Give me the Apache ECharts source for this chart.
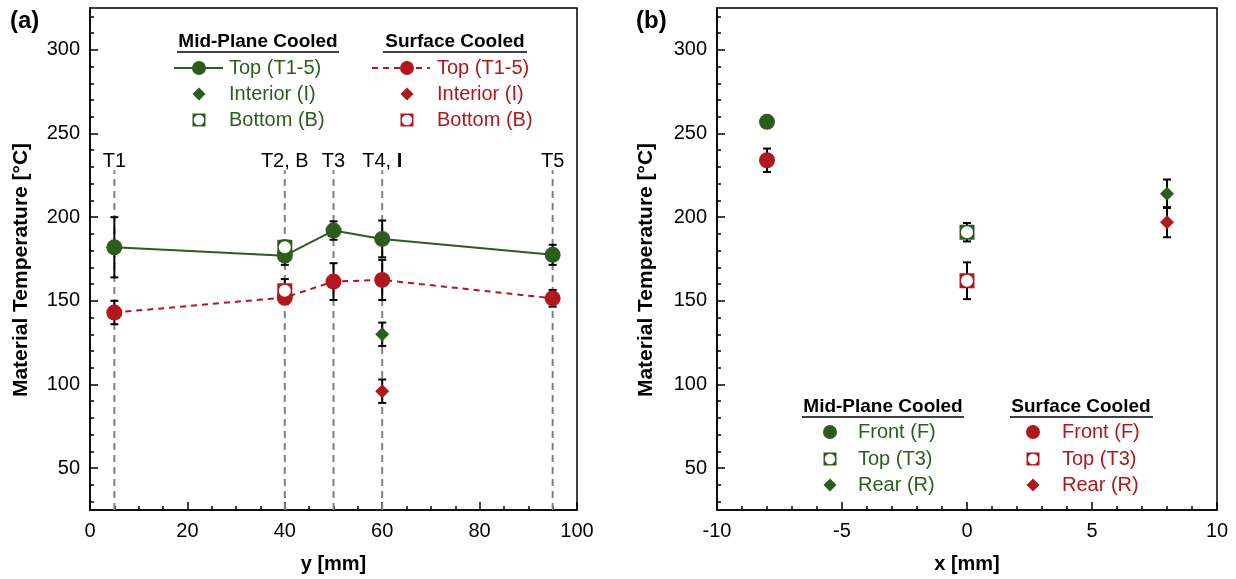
<!DOCTYPE html>
<html><head><meta charset="utf-8">
<script src="https://cdn.jsdelivr.net/npm/echarts@6/dist/echarts.min.js"></script>
<style>html,body{margin:0;padding:0;background:#fff}#c{width:1236px;height:579px}</style>
</head><body><div id="c"></div>
<script>
const GREEN = '#2d5c1c', RED = '#b0181d';
const FONT = '"Liberation Sans", Arial, sans-serif';

// ---- (a) data ----
const sensorPos = [5, 40, 50, 60, 95];
const sensorLabels = ['T1', 'T2, B', 'T3', 'T4, I', 'T5'];
const midTop = [182, 177, 192, 187, 177.5];
const midTopErr = [18, 5.5, 5.5, 11, 6];
const surfTop = [143, 152, 161.5, 162.5, 151.5];
const surfTopErr = [7, 4, 11, 12, 5];
const interiorPos = [60];
const midInterior = [130];
const midInteriorErr = [7];
const surfInterior = [96];
const surfInteriorErr = [7];
const bottomPos = [40];
const midBottom = [182];
const midBottomErr = [4];
const surfBottom = [156];
const surfBottomErr = [7];

// ---- (b) data ----
const frontPos = [-8];
const topPos = [0];
const rearPos = [8];
const midFront = [257];
const midFrontErr = [0];
const midTopB = [191];
const midTopBErr = [5.5];
const midRear = [214];
const midRearErr = [8.5];
const surfFront = [234];
const surfFrontErr = [7];
const surfTopB = [162];
const surfTopBErr = [11];
const surfRear = [197];
const surfRearErr = [9];

// ---- axis ticks ----
const tempMajor = [50, 100, 150, 200, 250, 300];
const tempMinor = [30, 40, 60, 70, 80, 90, 110, 120, 130, 140, 160, 170, 180, 190, 210, 220, 230, 240, 260, 270, 280, 290, 310, 320];

function pts(xs, ys) { return ys.map((v, i) => [xs[i], v]); }
function errs(xs, ys, es) { return ys.map((v, i) => [xs[i], v, es[i]]).filter(d => d[2] > 0); }

const errA = [].concat(
  errs(sensorPos, midTop, midTopErr), errs(sensorPos, surfTop, surfTopErr),
  errs(interiorPos, midInterior, midInteriorErr), errs(interiorPos, surfInterior, surfInteriorErr),
  errs(bottomPos, midBottom, midBottomErr), errs(bottomPos, surfBottom, surfBottomErr));
const errB = [].concat(
  errs(frontPos, midFront, midFrontErr), errs(topPos, midTopB, midTopBErr), errs(rearPos, midRear, midRearErr),
  errs(frontPos, surfFront, surfFrontErr), errs(topPos, surfTopB, surfTopBErr), errs(rearPos, surfRear, surfRearErr));

function errRender(params, api) {
  const x = api.value(0), v = api.value(1), e = api.value(2);
  const hi = api.coord([x, v + e]), lo = api.coord([x, v - e]);
  const cw = 4, st = { stroke: '#000', lineWidth: 2 };
  return { type: 'group', children: [
    { type: 'line', shape: { x1: hi[0], y1: hi[1], x2: lo[0], y2: lo[1] }, style: st },
    { type: 'line', shape: { x1: hi[0] - cw, y1: hi[1], x2: hi[0] + cw, y2: hi[1] }, style: st },
    { type: 'line', shape: { x1: lo[0] - cw, y1: lo[1], x2: lo[0] + cw, y2: lo[1] }, style: st }
  ] };
}
function guideRender(params, api) {
  const x = api.value(0);
  const p0 = api.coord([x, 25]), p1 = api.coord([x, 228]), pl = api.coord([x, 233]);
  const txt = sensorLabels[params.dataIndex].replace(', I', ', {b|I}');
  return { type: 'group', children: [
    { type: 'line', shape: { x1: p0[0], y1: p0[1], x2: p1[0], y2: p1[1] },
      style: { stroke: '#808080', lineWidth: 2, lineDash: [7, 5] } },
    { type: 'text', style: { text: txt, x: pl[0], y: pl[1],
      align: 'center', verticalAlign: 'middle', textAlign: 'center', textVerticalAlign: 'middle',
      fontFamily: FONT, fontSize: 20, fill: '#000',
      rich: { b: { fontFamily: FONT, fontSize: 20, fontWeight: 'bold', fill: '#000' } } } }
  ] };
}

function xAxisCfg(grid, min, max, interval, split, name) {
  return { gridIndex: grid, type: 'value', min, max, interval,
    name, nameLocation: 'middle', nameGap: 44,
    nameTextStyle: { fontFamily: FONT, fontWeight: 'bold', fontSize: 20, color: '#000' },
    axisLine: { show: true, onZero: false, lineStyle: { color: '#000', width: 1.5 } },
    axisTick: { show: true, inside: true, length: 8, lineStyle: { color: '#000', width: 1.5 } },
    minorTick: { show: true, splitNumber: split, length: 4, lineStyle: { color: '#000', width: 1.5 } },
    axisLabel: { color: '#000', fontFamily: FONT, fontSize: 20, margin: 11 },
    splitLine: { show: false }, minorSplitLine: { show: false } };
}
function yAxisMain(grid) {
  return { gridIndex: grid, type: 'value', min: 25, max: 325,
    axisLine: { show: true, onZero: false, lineStyle: { color: '#000', width: 1.5 } },
    axisTick: { show: true, inside: true, length: 8, customValues: tempMajor, lineStyle: { color: '#000', width: 1.5 } },
    axisLabel: { color: '#000', fontFamily: FONT, fontSize: 20, margin: 10, customValues: tempMajor },
    splitLine: { show: false } };
}
function yAxisMinor(grid) {
  return { gridIndex: grid, type: 'value', min: 25, max: 325, position: 'left',
    axisLine: { show: false, onZero: false },
    axisTick: { show: true, inside: true, length: 4, customValues: tempMinor, lineStyle: { color: '#000', width: 1.5 } },
    axisLabel: { show: false }, splitLine: { show: false } };
}

// ---- legend drawing (graphic) ----
const legendEls = [];
function header(cx, x1, x2, y, text) {
  legendEls.push({ type: 'text', x: cx, y: y, style: { text, font: 'bold 19px ' + FONT, fill: '#000',
    align: 'center', verticalAlign: 'middle', textAlign: 'center', textVerticalAlign: 'middle' } });
  legendEls.push({ type: 'line', shape: { x1, y1: y + 10, x2, y2: y + 10 }, style: { stroke: '#000', lineWidth: 1.5 } });
}
function label(x, y, text, color) {
  legendEls.push({ type: 'text', x, y, style: { text, font: '20px ' + FONT, fill: color,
    align: 'left', verticalAlign: 'middle', textAlign: 'left', textVerticalAlign: 'middle' } });
}
function iconCircle(cx, cy, color) { legendEls.push({ type: 'circle', shape: { cx, cy, r: 7 }, style: { fill: color } }); }
function iconDiamond(cx, cy, color) { const s = 6.5; legendEls.push({ type: 'polygon', shape: { points: [[cx, cy - s], [cx + s, cy], [cx, cy + s], [cx - s, cy]] }, style: { fill: color } }); }
function iconSquare(cx, cy, color) {
  legendEls.push({ type: 'rect', shape: { x: cx - 6.5, y: cy - 6.5, width: 13, height: 13 }, style: { fill: color } });
  legendEls.push({ type: 'circle', shape: { cx, cy, r: 5.2 }, style: { fill: '#fff' } });
}
function iconLine(x1, x2, cy, color, dash) {
  legendEls.push({ type: 'line', shape: { x1, y1: cy, x2, y2: cy }, style: { stroke: color, lineWidth: 2, lineDash: dash || null } });
}
// (a) legend
header(258, 177, 339, 42, 'Mid-Plane Cooled');
iconLine(174, 223, 68, GREEN); iconCircle(199, 68, GREEN); label(229, 68, 'Top (T1-5)', GREEN);
iconDiamond(199, 94, GREEN); label(229, 94, 'Interior (I)', GREEN);
iconSquare(199, 120, GREEN); label(229, 120, 'Bottom (B)', GREEN);
header(455, 383, 527, 42, 'Surface Cooled');
iconLine(372, 430, 68, RED, [6, 5]); iconCircle(407, 68, RED); label(437, 68, 'Top (T1-5)', RED);
iconDiamond(407, 94, RED); label(437, 94, 'Interior (I)', RED);
iconSquare(407, 120, RED); label(437, 120, 'Bottom (B)', RED);
// (b) legend
header(883, 802, 964, 407, 'Mid-Plane Cooled');
iconCircle(830, 432, GREEN); label(858, 432, 'Front (F)', GREEN);
iconSquare(830, 459, GREEN); label(858, 459, 'Top (T3)', GREEN);
iconDiamond(830, 485, GREEN); label(858, 485, 'Rear (R)', GREEN);
header(1081, 1010, 1153, 407, 'Surface Cooled');
iconCircle(1033, 432, RED); label(1062, 432, 'Front (F)', RED);
iconSquare(1033, 459, RED); label(1062, 459, 'Top (T3)', RED);
iconDiamond(1033, 485, RED); label(1062, 485, 'Rear (R)', RED);
// panel letters and y titles
legendEls.push({ type: 'text', x: 10, y: 21, style: { text: '(a)', font: 'bold 24px ' + FONT, fill: '#000', textVerticalAlign: 'middle', verticalAlign: 'middle' } });
legendEls.push({ type: 'text', x: 636, y: 21, style: { text: '(b)', font: 'bold 24px ' + FONT, fill: '#000', textVerticalAlign: 'middle', verticalAlign: 'middle' } });
[[21, 270], [646, 270]].forEach(p => legendEls.push({ type: 'text', x: p[0], y: p[1], rotation: Math.PI / 2,
  style: { text: 'Material Temperature [°C]', font: 'bold 21px ' + FONT, fill: '#000',
    align: 'center', verticalAlign: 'middle', textAlign: 'center', textVerticalAlign: 'middle' } }));

function scatter(xi, yi, data, symbol, size, color, z) {
  return { type: 'scatter', xAxisIndex: xi, yAxisIndex: yi, data, symbol, symbolSize: size,
    itemStyle: { color, opacity: 1 }, z, silent: true };
}

const option = {
  animation: false,
  backgroundColor: '#fff',
  grid: [
    { left: 90, top: 8, width: 487, height: 503, show: true, borderColor: '#000', borderWidth: 1.5, backgroundColor: 'transparent' },
    { left: 717, top: 8, width: 500, height: 503, show: true, borderColor: '#000', borderWidth: 1.5, backgroundColor: 'transparent' }
  ],
  xAxis: [xAxisCfg(0, 0, 100, 20, 4, 'y [mm]'), xAxisCfg(1, -10, 10, 5, 5, 'x [mm]')],
  yAxis: [yAxisMain(0), yAxisMinor(0), yAxisMain(1), yAxisMinor(1)],
  graphic: legendEls,
  series: [
    { type: 'custom', xAxisIndex: 0, yAxisIndex: 0, data: sensorPos.map(x => [x]), renderItem: guideRender, z: 1, silent: true },
    { type: 'custom', xAxisIndex: 0, yAxisIndex: 0, data: errA, renderItem: errRender, z: 2, silent: true },
    { type: 'line', xAxisIndex: 0, yAxisIndex: 0, data: pts(sensorPos, surfTop), symbol: 'circle', symbolSize: 16,
      itemStyle: { color: RED }, lineStyle: { color: RED, width: 2, type: [6, 5] }, z: 3, silent: true },
    { type: 'line', xAxisIndex: 0, yAxisIndex: 0, data: pts(sensorPos, midTop), symbol: 'circle', symbolSize: 16,
      itemStyle: { color: GREEN }, lineStyle: { color: GREEN, width: 2 }, z: 3, silent: true },
    scatter(0, 0, pts(interiorPos, midInterior), 'diamond', 14, GREEN, 4),
    scatter(0, 0, pts(interiorPos, surfInterior), 'diamond', 14, RED, 4),
    scatter(0, 0, pts(bottomPos, midBottom), 'rect', 15, GREEN, 5),
    scatter(0, 0, pts(bottomPos, midBottom), 'circle', 12, '#fff', 6),
    scatter(0, 0, pts(bottomPos, surfBottom), 'rect', 15, RED, 5),
    scatter(0, 0, pts(bottomPos, surfBottom), 'circle', 12, '#fff', 6),

    { type: 'custom', xAxisIndex: 1, yAxisIndex: 2, data: errB, renderItem: errRender, z: 2, silent: true },
    scatter(1, 2, pts(frontPos, midFront), 'circle', 16, GREEN, 4),
    scatter(1, 2, pts(frontPos, surfFront), 'circle', 16, RED, 4),
    scatter(1, 2, pts(rearPos, midRear), 'diamond', 14, GREEN, 4),
    scatter(1, 2, pts(rearPos, surfRear), 'diamond', 14, RED, 4),
    scatter(1, 2, pts(topPos, midTopB), 'rect', 15, GREEN, 5),
    scatter(1, 2, pts(topPos, midTopB), 'circle', 12, '#fff', 6),
    scatter(1, 2, pts(topPos, surfTopB), 'rect', 15, RED, 5),
    scatter(1, 2, pts(topPos, surfTopB), 'circle', 12, '#fff', 6)
  ]
};
const chart = echarts.init(document.getElementById('c'), null, { renderer: 'canvas' });
chart.setOption(option);
</script></body></html>
